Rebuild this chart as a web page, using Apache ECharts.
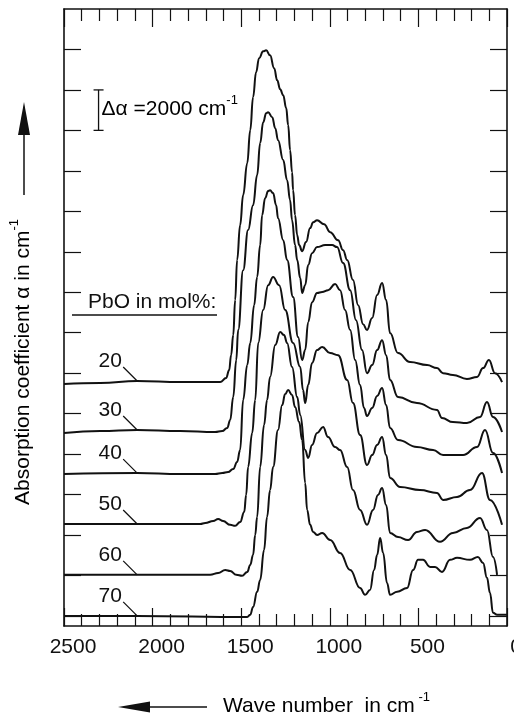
<!DOCTYPE html>
<html>
<head>
<meta charset="utf-8">
<script src="https://cdn.jsdelivr.net/npm/echarts@6/dist/echarts.min.js"></script>
<style>
  html, body { margin: 0; padding: 0; background: #ffffff; }
  #chart { width: 514px; height: 718px; }
</style>
</head>
<body>
<div id="chart"></div>
<script>
// IR absorption spectra of lead silicate glasses, stacked with vertical offsets.
// Each spectrum: [wave number in cm^-1, absorption coefficient (offset) in cm^-1]
const compositions = ['20', '30', '40', '50', '60', '70'];

const pbo20 = [
  [2500,11460],[2295,11510],[2087,11610],[1844,11560],[1647,11560],[1619,11560],[1585,11760],[1568,12150],
  [1557,12890],[1545,13880],[1534,15610],[1523,17590],[1506,19320],[1489,20800],[1466,22380],[1449,24010],
  [1433,25640],[1416,26870],[1399,27570],[1376,27910],[1359,27960],[1337,27710],[1314,27070],[1297,26480],
  [1280,26030],[1263,25740],[1246,25100],[1235,24260],[1224,23020],[1213,21930],[1207,21040],[1196,19810],
  [1184,18820],[1173,18330],[1156,18030],[1134,18480],[1111,19170],[1094,19460],[1072,19560],[1032,19360],
  [998,18970],[953,18570],[925,18080],[902,17590],[869,16600],[840,15360],[812,14420],[790,14130],
  [761,14720],[733,15860],[705,16450],[682,15610],[660,13980],[615,12990],[547,12550],[451,12400],
  [395,12250],[361,12000],[305,11910],[226,11710],[169,11810],[135,12250],[102,12650],[68,12000],[28,11560]
];

const pbo30 = [
  [2500,9040],[2295,9140],[2087,9190],[1844,9140],[1647,9090],[1607,9140],[1579,9290],[1562,9680],
  [1545,10820],[1528,12650],[1517,14130],[1489,17090],[1461,19070],[1433,20300],[1410,21790],[1393,23370],
  [1376,24400],[1359,24850],[1348,24900],[1325,24650],[1308,24110],[1292,23510],[1263,22530],[1241,21540],
  [1224,20550],[1213,19560],[1196,18330],[1184,17590],[1167,16700],[1156,15960],[1139,16350],[1122,17340],
  [1100,17930],[1072,18230],[1026,18330],[987,18330],[959,18230],[925,17440],[885,16100],[852,14620],
  [818,13140],[790,12000],[761,12400],[733,13140],[705,13630],[682,12890],[660,11660],[615,10820],
  [508,10520],[395,10180],[367,9780],[305,9580],[226,9530],[152,9830],[113,10570],[79,9830],[28,9090]
];

const pbo40 = [
  [2500,7010],[2087,7060],[1844,7010],[1647,7010],[1607,7060],[1574,7110],[1545,7260],[1523,7610],
  [1506,8200],[1489,10670],[1466,12400],[1449,13490],[1427,15360],[1410,16750],[1393,18330],[1382,19810],
  [1365,20650],[1348,21000],[1337,21040],[1320,20900],[1303,20300],[1292,19660],[1263,18570],[1241,17590],
  [1207,15760],[1179,13780],[1156,12650],[1139,13140],[1122,14520],[1100,15510],[1072,15960],[1043,16010],
  [1010,16100],[970,16400],[942,16100],[914,15120],[885,14130],[857,12650],[829,11410],[807,10280],
  [790,9880],[761,10280],[733,10870],[705,11260],[682,10420],[660,9290],[615,8690],[508,8350],
  [417,8200],[361,7950],[248,7950],[169,8350],[124,9190],[79,8050],[28,7060]
];

const pbo50 = [
  [2500,4540],[2087,4540],[1731,4540],[1703,4590],[1658,4690],[1630,4790],[1602,4690],[1562,4500],
  [1534,4450],[1506,4640],[1483,5140],[1472,5980],[1461,7360],[1438,9040],[1421,10670],[1404,13490],
  [1376,15120],[1348,16350],[1320,16750],[1286,16350],[1252,15120],[1207,13490],[1167,12300],[1151,11160],
  [1139,10520],[1122,11410],[1100,12500],[1072,13140],[1043,13290],[998,12990],[953,12890],[902,11660],
  [869,10520],[829,8940],[790,7460],[761,7950],[733,8450],[705,8840],[682,7950],[660,6820],
  [603,6370],[491,6220],[395,6080],[361,5730],[282,5880],[209,6220],[141,7060],[96,5730],[28,4500]
];

const pbo60 = [
  [2500,2030],[2087,2030],[1675,2030],[1630,2120],[1590,2270],[1562,2220],[1528,2030],[1495,1980],
  [1466,2170],[1449,2520],[1433,3010],[1421,4000],[1410,4890],[1393,7360],[1371,9440],[1354,10670],
  [1337,11810],[1308,13390],[1280,14030],[1258,13880],[1241,13490],[1213,12300],[1184,10820],[1167,9930],
  [1139,8200],[1122,7810],[1100,8450],[1072,9040],[1038,9340],[1010,8840],[970,8350],[942,8200],
  [902,7360],[869,6220],[829,5240],[790,4500],[756,5240],[728,5980],[705,6320],[682,5480],
  [660,4100],[615,3900],[558,3750],[508,4150],[462,4250],[378,3660],[305,4100],[226,4350],
  [152,4840],[113,4250],[79,2910],[56,2030]
];

const pbo70 = [
  [2500,0],[2087,0],[1466,-50],[1449,50],[1433,440],[1410,1190],[1393,1780],[1371,3260],
  [1354,4890],[1337,6220],[1320,7360],[1292,9190],[1269,10420],[1252,10970],[1235,11160],[1213,10920],
  [1196,10320],[1173,9580],[1156,8690],[1139,6570],[1128,5240],[1111,4500],[1094,4150],[1072,4000],
  [1043,4100],[998,3750],[942,3110],[885,2270],[829,1380],[801,1040],[773,1280],[750,2270],
  [733,3010],[716,3850],[699,3110],[677,1630],[660,1040],[620,1190],[564,1380],[530,2270],
  [502,2770],[474,2770],[434,2420],[406,2420],[367,2170],[321,2770],[282,2870],[209,2770],
  [164,2910],[135,2620],[113,1880],[96,1140],[79,150],[56,50],[0,50]
];

const spectra = [pbo20, pbo30, pbo40, pbo50, pbo60, pbo70];

// Axis ticks
const xTickLabels = [0, 500, 1000, 1500, 2000, 2500];
const yTickValues = [0, 2000, 4000, 6000, 8000, 10000, 12000, 14000, 16000, 18000, 20000, 22000, 24000, 26000, 28000];

// Scale bar: delta alpha
const scaleBarWave = 2305;
const scaleBarBase = 24000;
const scaleBarSpan = 2000;

// Composition labels point at each curve at this wave number
const labelWave = 2087;

const FONT = '"Liberation Sans", Arial, Helvetica, sans-serif';
const INK = '#111111';

function valueAt(series, wave) {
  const hit = series.find(p => p[0] === wave);
  return hit ? hit[1] : series[0][1];
}

const chart = echarts.init(document.getElementById('chart'), null, { renderer: 'canvas' });

const xAxisBase = {
  type: 'value', min: 0, max: 2500, interval: 500, inverse: true,
  axisLine: { show: true, onZero: false, lineStyle: { color: INK, width: 1.6 } },
  axisTick: { show: true, inside: true, length: 18, lineStyle: { color: INK, width: 1.2 } },
  minorTick: { show: true, splitNumber: 5, length: 12, lineStyle: { color: INK, width: 1.2 } },
  splitLine: { show: false }, minorSplitLine: { show: false }
};

const yAxisBase = {
  type: 'value', min: -500, max: 30000,
  axisLine: { show: true, onZero: false, lineStyle: { color: INK, width: 1.6 } },
  axisTick: { show: true, inside: true, length: 17, customValues: yTickValues, lineStyle: { color: INK, width: 1.2 } },
  axisLabel: { show: false },
  splitLine: { show: false }
};

const supRich = {
  a: { fontFamily: FONT, fontSize: 21, color: INK, lineHeight: 30 },
  s: { fontFamily: FONT, fontSize: 13, color: INK, verticalAlign: 'top' }
};

const option = {
  backgroundColor: '#ffffff',
  animation: false,
  grid: { left: 64, right: 7, top: 9, bottom: 92, containLabel: false, outerBoundsMode: 'none' },
  xAxis: [
    Object.assign({}, xAxisBase, {
      position: 'bottom',
      axisLabel: {
        show: true, customValues: xTickLabels, margin: 11,
        formatter: v => String(v),
        fontFamily: FONT, fontSize: 21, color: INK, padding: [0, 0, 0, 18]
      }
    }),
    Object.assign({}, xAxisBase, { position: 'top', axisLabel: { show: false } })
  ],
  yAxis: [
    Object.assign({}, yAxisBase, { position: 'left' }),
    Object.assign({}, yAxisBase, { position: 'right' })
  ],
  series: spectra.map((data, i) => ({
    name: compositions[i] + ' mol% PbO',
    type: 'line',
    xAxisIndex: 0, yAxisIndex: 0,
    data: data,
    showSymbol: false,
    smooth: 0.45,
    smoothMonotone: 'x',
    lineStyle: { color: INK, width: 2 },
    z: 3
  })).concat([
    {
      // composition labels with leader lines
      type: 'custom',
      xAxisIndex: 0, yAxisIndex: 0,
      data: spectra.map(s => [labelWave, valueAt(s, labelWave)]),
      renderItem: function (params, api) {
        const tip = api.coord([api.value(0), api.value(1)]);
        return {
          type: 'group',
          children: [
            { type: 'line', shape: { x1: tip[0] - 14, y1: tip[1] - 14, x2: tip[0], y2: tip[1] },
              style: { stroke: INK, lineWidth: 1.2 } },
            { type: 'text', x: tip[0] - 27, y: tip[1] - 20,
              style: { text: compositions[params.dataIndex], font: '21px ' + FONT, fill: INK,
                       align: 'center', verticalAlign: 'middle' } }
          ]
        };
      },
      z: 4
    },
    {
      // delta-alpha scale bar
      type: 'custom',
      xAxisIndex: 0, yAxisIndex: 0,
      encode: { x: 0, y: [1, 2] },
      data: [[scaleBarWave, scaleBarBase, scaleBarBase + scaleBarSpan]],
      renderItem: function (params, api) {
        const lo = api.coord([api.value(0), api.value(1)]);
        const hi = api.coord([api.value(0), api.value(2)]);
        const st = { stroke: INK, lineWidth: 1.3 };
        return {
          type: 'group',
          children: [
            { type: 'line', shape: { x1: lo[0], y1: lo[1], x2: hi[0], y2: hi[1] }, style: st },
            { type: 'line', shape: { x1: lo[0] - 5, y1: lo[1], x2: lo[0] + 5, y2: lo[1] }, style: st },
            { type: 'line', shape: { x1: hi[0] - 5, y1: hi[1], x2: hi[0] + 5, y2: hi[1] }, style: st },
            { type: 'text', x: lo[0] + 3, y: (lo[1] + hi[1]) / 2 - 1,
              style: { text: '{a|\u0394\u03b1 =' + (api.value(2) - api.value(1)) + ' cm}{s|-1}', rich: supRich,
                       align: 'left', verticalAlign: 'middle' } }
          ]
        };
      },
      z: 4
    }
  ]),
  graphic: [
    // y axis title and arrow
    {
      type: 'text', x: 23, y: 362, rotation: Math.PI / 2,
      style: { text: '{a|Absorption coefficient \u03b1 in cm}{s|-1}', rich: supRich,
               align: 'center', verticalAlign: 'middle' }
    },
    { type: 'line', shape: { x1: 24, y1: 195, x2: 24, y2: 130 }, style: { stroke: INK, lineWidth: 1.5 } },
    { type: 'polygon', shape: { points: [[24, 102], [18, 135], [30, 135]] }, style: { fill: INK } },
    // x axis title and arrow
    {
      type: 'text', x: 223, y: 706,
      style: { text: '{a|Wave number  in cm}{s| -1}', rich: supRich, align: 'left', verticalAlign: 'middle' }
    },
    { type: 'line', shape: { x1: 145, y1: 707, x2: 207, y2: 707 }, style: { stroke: INK, lineWidth: 1.5 } },
    { type: 'polygon', shape: { points: [[118, 707], [150, 701.5], [150, 712.5]] }, style: { fill: INK } },
    // legend heading
    {
      type: 'text', x: 88, y: 302,
      style: { text: 'PbO in mol%:', font: '21px ' + FONT, fill: INK, align: 'left', verticalAlign: 'middle' }
    },
    { type: 'line', shape: { x1: 72, y1: 315, x2: 217, y2: 315 }, style: { stroke: INK, lineWidth: 1.5 } }
  ]
};

chart.setOption(option);
</script>
</body>
</html>
